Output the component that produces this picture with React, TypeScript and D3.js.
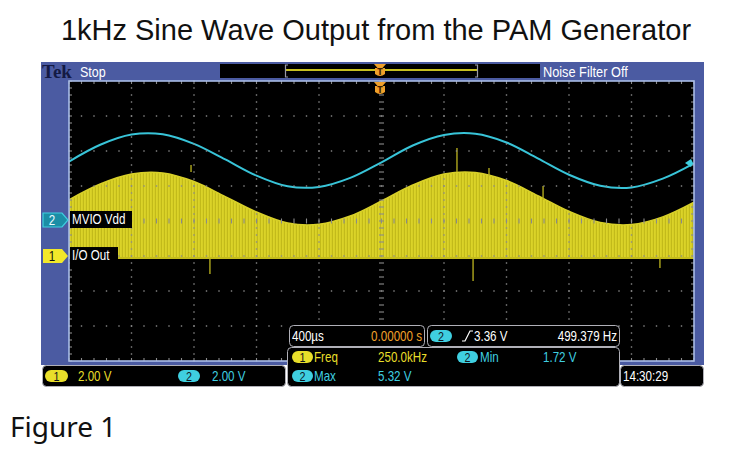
import React from 'react';
import * as d3 from 'd3';

// horizontal: 400 us/div, 10 divisions across the screen
const timeTicksUs = [0, 400, 800, 1200, 1600, 2000, 2400, 2800, 3200, 3600, 4000];
// sample instants used to read the traces off the screen (every half division)
const sampleTimesUs = [0, 200, 400, 600, 800, 1000, 1200, 1400, 1600, 1800, 2000,
  2200, 2400, 2600, 2800, 3000, 3200, 3400, 3600, 3800, 4000];

// channel 2 (MVIO Vdd), volts
const ch2Volts = [3.45, 4.55, 5.22, 5.24, 4.61, 3.59, 2.53, 1.83, 1.79, 2.38, 3.40,
  4.50, 5.19, 5.27, 4.70, 3.66, 2.59, 1.87, 1.76, 2.33, 3.33];
// channel 1 (I/O Out), PWM envelope top, volts
const ch1EnvelopeVolts = [3.33, 4.23, 4.80, 4.86, 4.37, 3.51, 2.63, 2.00, 1.93, 2.40, 3.26,
  4.17, 4.80, 4.89, 4.43, 3.57, 2.67, 2.03, 1.91, 2.35, 3.19];

// a few glitches on channel 1
const glitchTimesUs = [781, 902, 2483, 2586, 2688, 3034, 3782];
const glitchFromV = [4.91, 0, 4.91, 0, 4.69, 3.31, 0];
const glitchToV = [5.31, -0.91, 6.29, -1.31, 5.14, 4.11, -0.57];

// readouts
const ch2Min = 1.72;
const ch2Max = 5.32;
const triggerLevel = 3.36;
const triggerTimeUs = 2000;

const SANS = "'Liberation Sans', Arial, sans-serif";
const YEL = '#e8de2a';
const CYAN = '#3fcfe0';
const ORANGE = '#f0a02a';

// scope readout text: narrow face faked by squeezing a regular sans
const T = ({ x, y, children, fill = '#fff', anchor = 'start', size = 14.5, sx = 0.8 }) => (
  <text transform={`translate(${x},${y}) scale(${sx},1)`} textAnchor={anchor} fontSize={size}
    fontFamily={SANS} fill={fill}>{children}</text>
);

const Badge = ({ x, y, label, fill, w = 21 }) => (
  <g>
    <rect x={x} y={y} width={w} height={12} rx={6} fill={fill} />
    <T x={x + w / 2} y={y + 11} anchor="middle" size={13.5} fill="#10141c">{label}</T>
  </g>
);

const TMarker = ({ x, y }) => (
  <g transform={`translate(${x},${y})`}>
    <path d="M-6,0 L6,0 L2.5,4 L5,4 L5,10 Q0,14 -5,10 L-5,4 L-2.5,4 Z" fill={ORANGE} />
    <text x={0} y={11} textAnchor="middle" fontSize={8} fontWeight="bold" fontFamily="DejaVu Sans" fill="#402000">T</text>
  </g>
);

export default function App() {
  const left = 69, right = 694, top = 81, bottom = 361;
  const x = d3.scaleLinear().domain([0, 4000]).range([left, right]);
  const div = d3.scaleLinear().domain([4, -4]).range([top, bottom]);
  // ch1: 2 V/div, ground marker at 1.06 div below centre
  const ch1 = d3.scaleLinear().domain([0, 2]).range([div(-1.058), div(-0.058)]);
  // ch2 position taken from min/max readouts on the screen
  const ch2 = d3.scaleLinear().domain([ch2Min, ch2Max]).range([188, 133]);

  const ch2Line = d3.line<number>()
    .x((_, i) => x(sampleTimesUs[i]))
    .y(d => ch2(d))
    .curve(d3.curveCatmullRom);

  const ch1Area = d3.area<number>()
    .x((_, i) => x(sampleTimesUs[i]))
    .y0(ch1(0))
    .y1(d => ch1(d))
    .curve(d3.curveCatmullRom);

  const minorT = d3.range(0, 4000 + 1, 80);
  const minorD = d3.range(-4, 4.001, 0.2);
  const dots = [];
  timeTicksUs.slice(1, -1).forEach(t => {
    if (t === 2000) return;
    minorD.forEach(d => dots.push([x(t), div(d)]));
  });
  [-3, -2, -1, 1, 2, 3].forEach(d => {
    minorT.forEach(t => dots.push([x(t), div(d)]));
  });

  const gridColor = '#8a8a8a';
  const ticks = [];
  minorT.forEach(t => {
    ticks.push([x(t), top, x(t), top + 3]);
    ticks.push([x(t), bottom, x(t), bottom - 3]);
    ticks.push([x(t), div(0) - 2.5, x(t), div(0) + 2.5]);
  });
  minorD.forEach(d => {
    ticks.push([left, div(d), left + 3, div(d)]);
    ticks.push([right, div(d), right - 3, div(d)]);
    ticks.push([x(2000) - 2.5, div(d), x(2000) + 2.5, div(d)]);
  });

  const tl = ch2(triggerLevel);

  return (
    <svg width={745} height={450} style={{ position: 'absolute', left: 0, top: 0, background: '#fff' }}>
      <defs>
        <pattern id="pwm" width={3} height={4} patternUnits="userSpaceOnUse">
          <rect width={3} height={4} fill="#c2ba1a" />
          <rect width={1.8} height={4} fill="#dbd328" />
        </pattern>
        <clipPath id="screen"><rect x={left} y={top} width={right - left} height={bottom - top} /></clipPath>
      </defs>

      <text x={376} y={40} textAnchor="middle" fontSize={29} fontFamily={SANS} fill="#111">
        1kHz Sine Wave Output from the PAM Generator
      </text>

      {/* scope frame */}
      <rect x={41} y={62} width={663} height={303} fill="#4b5ba2" />
      <rect x={left} y={top} width={right - left} height={bottom - top} fill="#000" />

      {/* top status bar */}
      <text x={42} y={78} fontSize={19} fontWeight="bold" fontFamily="'Liberation Serif', serif" fill="#141a44">Tek</text>
      <T x={80} y={77} sx={0.86}>Stop</T>
      <rect x={220} y={64} width={320} height={14} fill="#000" />
      <line x1={286} y1={70} x2={477} y2={70} stroke="#c8c020" strokeWidth={2} />
      <path d="M288,65 L285.5,65 L285.5,77 L288,77" fill="none" stroke="#9a9aa8" strokeWidth={1.2} />
      <path d="M475,65 L477.5,65 L477.5,77 L475,77" fill="none" stroke="#9a9aa8" strokeWidth={1.2} />
      <TMarker x={x(triggerTimeUs) - 1.5} y={64} />
      <T x={543} y={77} sx={0.88}>Noise Filter Off</T>

      {/* traces */}
      <g clipPath="url(#screen)">
        <path d={ch1Area(ch1EnvelopeVolts)} fill="url(#pwm)" />
        <path d={d3.line<number>().x((_, i) => x(sampleTimesUs[i])).y(d => ch1(d)).curve(d3.curveCatmullRom)(ch1EnvelopeVolts)}
          fill="none" stroke="#d8d02a" strokeWidth={1.5} />
        <line x1={left} x2={right} y1={ch1(0)} y2={ch1(0)} stroke="#c4bc1c" strokeWidth={2} />
        {glitchTimesUs.map((t, i) => (
          <line key={i} x1={x(t)} x2={x(t)} y1={ch1(glitchFromV[i])} y2={ch1(glitchToV[i])} stroke="#bdb520" strokeWidth={1.3} />
        ))}
        <path d={ch2Line(ch2Volts)} fill="none" stroke="#38c4d8" strokeWidth={2} />
      </g>

      {/* graticule */}
      {dots.map(([dx, dy], i) => (
        <rect key={i} x={dx - 0.7} y={dy - 0.7} width={1.4} height={1.4} fill={gridColor} />
      ))}
      {ticks.map(([x1, y1, x2, y2], i) => (
        <line key={'t' + i} x1={x1} y1={y1} x2={x2} y2={y2} stroke={gridColor} strokeWidth={1.1} />
      ))}
      <rect x={left} y={top} width={right - left} height={bottom - top} fill="none" stroke="#a9bce6" strokeWidth={1.6} />
      <TMarker x={x(triggerTimeUs) - 1.5} y={82} />

      {/* trigger level marker */}
      <path d={`M${right - 9},${tl} L${right - 3},${tl - 4} L${right - 1},${tl} L${right - 3},${tl + 4} Z`} fill={CYAN} />

      {/* channel markers */}
      <path d={`M43,${div(0) - 8} L62,${div(0) - 8} L68,${div(0) - 1} L62,${div(0) + 6} L43,${div(0) + 6} Z`} fill="#1b8ea6" stroke={CYAN} strokeWidth={1.2} />
      <T x={52} y={div(0) + 4} anchor="middle" fill="#e8fbff">2</T>
      <rect x={70} y={div(0) - 10} width={62} height={17} fill="#000" />
      <T x={72} y={div(0) + 3}>MVIO Vdd</T>

      <path d={`M43,${ch1(0) - 9} L62,${ch1(0) - 9} L68,${ch1(0) - 2} L62,${ch1(0) + 5} L43,${ch1(0) + 5} Z`} fill="#f2e82a" />
      <T x={52} y={ch1(0) + 3} anchor="middle" fill="#111">1</T>
      <rect x={70} y={ch1(0) - 11} width={48} height={17} fill="#000" />
      <T x={72} y={ch1(0) + 2}>I/O Out</T>

      {/* timebase + trigger readouts */}
      <rect x={289.5} y={325.5} width={135} height={21} rx={4} fill="#000" stroke="#b0b0b8" />
      <T x={292} y={341}>400µs</T>
      <T x={422} y={341} anchor="end" fill={ORANGE}>0.00000 s</T>
      <rect x={427.5} y={325.5} width={192} height={21} rx={4} fill="#000" stroke="#b0b0b8" />
      <Badge x={430} y={330} label="2" fill={CYAN} w={22} />
      <path d="M462,341 L465,341 L470,331 L473,331" fill="none" stroke="#fff" strokeWidth={1.2} />
      <T x={474} y={341}>{`${triggerLevel.toFixed(2)} V`}</T>
      <T x={617} y={341} anchor="end">499.379 Hz</T>

      {/* measurements */}
      <rect x={287.5} y={347.5} width={332} height={39} rx={4} fill="#000" stroke="#b0b0b8" />
      <Badge x={292} y={351} label="1" fill={YEL} />
      <T x={314} y={362} fill={YEL}>Freq</T>
      <T x={378} y={362} fill={YEL}>250.0kHz</T>
      <Badge x={457} y={351} label="2" fill={CYAN} />
      <T x={480} y={362} fill={CYAN}>Min</T>
      <T x={543} y={362} fill={CYAN}>{`${ch2Min.toFixed(2)} V`}</T>
      <Badge x={292} y={370} label="2" fill={CYAN} />
      <T x={314} y={381} fill={CYAN}>Max</T>
      <T x={378} y={381} fill={CYAN}>{`${ch2Max.toFixed(2)} V`}</T>

      {/* channel scale readouts */}
      <rect x={42.5} y={365.5} width={243} height={21} rx={4} fill="#000" stroke="#b0b0b8" />
      <Badge x={45} y={370} label="1" fill={YEL} w={23} />
      <T x={78} y={381} fill={YEL}>2.00 V</T>
      <Badge x={178} y={370} label="2" fill={CYAN} w={22} />
      <T x={212} y={381} fill={CYAN}>2.00 V</T>

      <rect x={620.5} y={365.5} width={83} height={21} rx={4} fill="#000" stroke="#b0b0b8" />
      <T x={623} y={381}>14:30:29</T>

      <text x={10} y={437} fontSize={28} fontFamily="'Noto Sans', 'Open Sans', sans-serif" fill="#111">Figure 1</text>
    </svg>
  );
}
